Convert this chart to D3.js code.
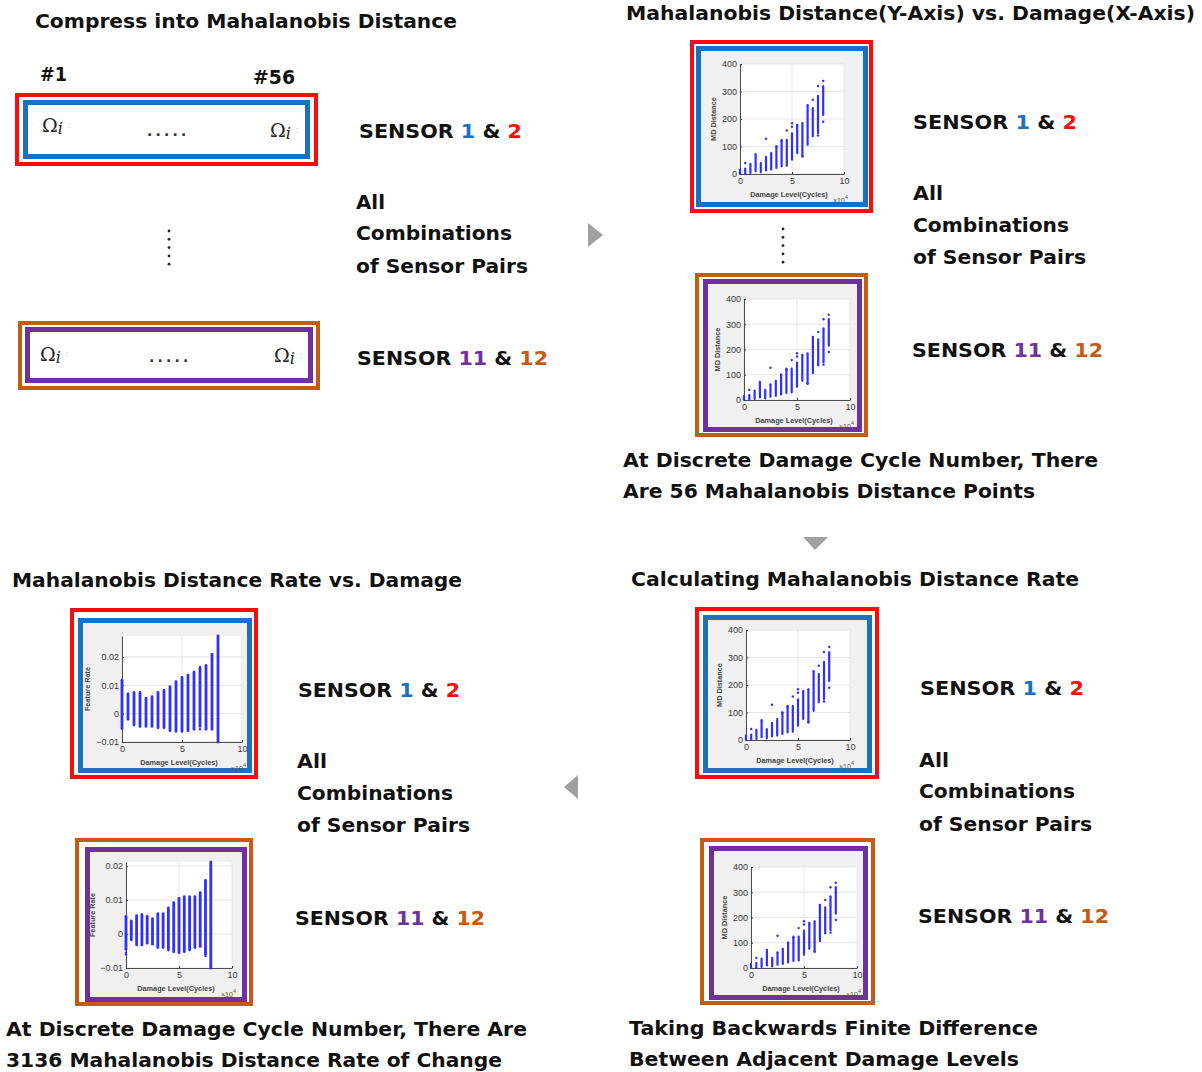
<!DOCTYPE html>
<html>
<head>
<meta charset="utf-8">
<script src="https://cdn.jsdelivr.net/npm/d3@7"></script>
<style>
  body { margin: 0; background: #fff; }
  svg { display: block; }
</style>
</head>
<body>
<svg id="fig" width="1202" height="1072"></svg>
<script>
// ---- data ---------------------------------------------------------------
// damage levels, in units of 10^4 cycles
const damageLevels = [0, 0.5, 1, 1.5, 2, 2.5, 3, 3.5, 4, 4.5, 5, 5.5, 6, 6.5, 7, 7.5, 8];

// Mahalanobis distance: dense spread of the 56 points at each damage level
const mdLow  = [0, 0, 4, 10, 6, 13, 16, 22, 28, 30, 52, 76, 64, 106, 137, 149, 215];
const mdHigh = [16, 20, 37, 72, 40, 62, 76, 100, 124, 124, 148, 175, 185, 245, 240, 284, 320];
// isolated Mahalanobis distance points [damage level, distance]
const mdScatter = [[0.5, 40], [2.5, 128], [3.5, 100], [4, 120], [4.5, 158], [5, 185], [5, 172],
                   [5.5, 178], [6, 65], [6.5, 250], [7, 270], [7.5, 320], [7.5, 140], [8, 338], [8, 190]];

// Mahalanobis distance rate, sensor pair 1 & 2
const rateLow12  = [-0.0053, -0.0020, -0.0040, -0.0045, -0.0045, -0.0045, -0.0050, -0.0050, -0.0060,
                    -0.0062, -0.0062, -0.0060, -0.0055, -0.0045, -0.0055, -0.0055, -0.0100];
const rateHigh12 = [0.0118, 0.0070, 0.0075, 0.0075, 0.0055, 0.0060, 0.0075, 0.0083, 0.0095,
                    0.0113, 0.0128, 0.0136, 0.0145, 0.0160, 0.0170, 0.0210, 0.0274];
const rateScatter12 = [[6, 0.0148], [6.5, -0.0055], [6.5, 0.0165]];

// Mahalanobis distance rate, sensor pair 11 & 12
const rateLow1112  = [-0.0045, -0.0017, -0.0032, -0.0032, -0.0027, -0.0030, -0.0040, -0.0040, -0.0047,
                      -0.0052, -0.0055, -0.0052, -0.0047, -0.0040, -0.0037, -0.0060, -0.0100];
const rateHigh1112 = [0.0052, 0.0039, 0.0054, 0.0057, 0.0052, 0.0045, 0.0060, 0.0060, 0.0077,
                      0.0092, 0.0105, 0.0110, 0.0110, 0.0110, 0.0122, 0.0158, 0.0212];
const rateScatter1112 = [[0, -0.0055], [0, -0.0060], [7.5, -0.0065], [8, -0.0095]];

// axis ticks
const damageTicks = [0, 5, 10];
const mdTicks = [0, 100, 200, 300, 400];
const rateTicks = [-0.01, 0, 0.01, 0.02];

// ---- styling ------------------------------------------------------------
const RED = "#ff0a0a", BLUE = "#1b70c0", PURPLE = "#7030a0", ORANGE = "#c55a11";
const INK = "#111";
const MARK = "#2f2fff";
const FONT = "'DejaVu Sans', Verdana, sans-serif";
const AXFONT = "'Liberation Sans', Arial, sans-serif";

const svg = d3.select("#fig");

// bold caption text; parts = [[text, colour], ...]
function label(x, y, parts, len, size = 20) {
  const t = svg.append("text")
    .attr("x", x).attr("y", y)
    .attr("font-family", FONT).attr("font-weight", "bold")
    .attr("font-size", size).attr("fill", INK);
  parts.forEach(p => t.append("tspan").attr("fill", p[1] || INK).text(p[0]));
  if (len) t.attr("textLength", len).attr("lengthAdjust", "spacingAndGlyphs");
  return t;
}

// rectangular border whose outer edge is (x0,y0)-(x1,y1)
function frame(x0, y0, x1, y1, color, w, fill = "none") {
  svg.append("rect")
    .attr("x", x0 + w / 2).attr("y", y0 + w / 2)
    .attr("width", x1 - x0 - w).attr("height", y1 - y0 - w)
    .attr("fill", fill).attr("stroke", color).attr("stroke-width", w);
}

// small MATLAB-style scatter panel
function miniChart(box, opt) {
  const g = svg.append("g");
  const x = d3.scaleLinear().domain([0, 10]).range([box.l, box.r]);
  const y = d3.scaleLinear().domain(opt.yDomain).range([box.b, box.t]);

  g.append("rect").attr("x", box.l).attr("y", box.t)
    .attr("width", box.r - box.l).attr("height", box.b - box.t).attr("fill", "#fff");

  // grid
  g.append("g").selectAll("line").data(damageTicks).join("line")
    .attr("x1", d => x(d)).attr("x2", d => x(d)).attr("y1", box.t).attr("y2", box.b)
    .attr("stroke", "#e2e2e2").attr("stroke-width", 0.9);
  g.append("g").selectAll("line").data(opt.yTicks).join("line")
    .attr("x1", box.l).attr("x2", box.r).attr("y1", d => y(d)).attr("y2", d => y(d))
    .attr("stroke", "#e2e2e2").attr("stroke-width", 0.9);

  // axes
  const ax = g.append("g").attr("transform", `translate(0,${box.b})`)
    .call(d3.axisBottom(x).tickValues(damageTicks).tickSizeInner(-2).tickSizeOuter(0).tickPadding(4));
  const ay = g.append("g").attr("transform", `translate(${box.l},0)`)
    .call(d3.axisLeft(y).tickValues(opt.yTicks).tickFormat(opt.fmt).tickSizeInner(-2).tickSizeOuter(0).tickPadding(3));
  [ax, ay].forEach(a => {
    a.select(".domain").attr("stroke", "#3a3a3a").attr("stroke-width", 0.9);
    a.selectAll(".tick line").attr("stroke", "#3a3a3a");
    a.selectAll("text").attr("font-family", AXFONT).attr("font-size", 9).attr("fill", "#3a3a3a");
  });

  // columns of points
  g.append("g").selectAll("line").data(damageLevels).join("line")
    .attr("x1", d => x(d)).attr("x2", d => x(d))
    .attr("y1", (d, i) => y(opt.low[i])).attr("y2", (d, i) => y(opt.high[i]))
    .attr("stroke", MARK).attr("stroke-width", opt.colWidth).attr("stroke-linecap", "round");
  g.append("g").selectAll("circle").data(opt.scatter).join("circle")
    .attr("cx", d => x(d[0])).attr("cy", d => y(d[1])).attr("r", 1.2).attr("fill", MARK);

  // axis labels
  const cx = (box.l + box.r) / 2, cy = (box.t + box.b) / 2;
  g.append("text").attr("x", cx - 3).attr("y", box.b + 23).attr("text-anchor", "middle")
    .attr("font-family", AXFONT).attr("font-weight", "bold").attr("font-size", 7.3).attr("fill", "#444")
    .text("Damage Level(Cycles)");
  const e = g.append("text").attr("x", box.r - 11).attr("y", box.b + 29)
    .attr("font-family", AXFONT).attr("font-size", 7).attr("fill", "#555");
  e.append("tspan").text("\u00d710");
  e.append("tspan").attr("dy", -4).attr("font-size", 5.5).text("4");
  g.append("text").attr("transform", `translate(${box.l + opt.ylabOff},${cy}) rotate(-90)`)
    .attr("text-anchor", "middle")
    .attr("font-family", AXFONT).attr("font-weight", "bold").attr("font-size", 7.3).attr("fill", "#444")
    .text(opt.ylab);
}

const mdOpt = { yDomain: [0, 400], yTicks: mdTicks, fmt: d3.format("d"), low: mdLow, high: mdHigh,
                scatter: mdScatter, colWidth: 2.2, ylab: "MD Distance", ylabOff: -24 };
const rateFmt = d => d === 0 ? "0" : d3.format(".2f")(d);

// ---- top-left: compression into Mahalanobis distance --------------------
label(35, 28, [["Compress into Mahalanobis Distance"]], 422);
label(40, 81, [["#1"]], 27);
label(253, 84, [["#56"]], 42);

frame(15, 93, 318, 166, RED, 4, "#fff");
frame(23, 100, 310, 159, BLUE, 5, "#fff");
frame(18, 321, 320, 390, ORANGE, 4, "#fff");
frame(25, 327, 313, 383, PURPLE, 5, "#fff");

function omega(x, y) {
  const t = svg.append("text").attr("x", x).attr("y", y)
    .attr("font-family", "'DejaVu Serif', 'Liberation Serif', serif").attr("font-size", 19).attr("fill", "#222");
  t.append("tspan").text("\u03a9");
  t.append("tspan").attr("font-style", "italic").attr("font-size", 16).attr("dy", 2).text("i");
  svg.append("text").attr("x", x + 26).attr("y", y - 4).attr("font-family", AXFONT)
    .attr("font-size", 9).attr("fill", "#bbb").text(":");
}
function ellipsis(x, y) {
  svg.append("text").attr("x", x).attr("y", y).attr("font-family", FONT).attr("font-weight", "bold")
    .attr("font-size", 14).attr("fill", "#333").attr("letter-spacing", 3.2).text(".....");
}
omega(42, 132); ellipsis(147, 136); omega(270, 137);
omega(40, 361); ellipsis(149, 362); omega(274, 362);

function vdots(x, y0) {
  svg.append("g").selectAll("circle").data([0, 1, 2, 3, 4]).join("circle")
    .attr("cx", x).attr("cy", d => y0 + d * 8.3).attr("r", 1.4).attr("fill", "#222");
}
vdots(169, 231);

label(359, 138, [["SENSOR "], ["1", BLUE], [" & "], ["2", RED]], 163);
label(356, 209, [["All"]], 29);
label(356, 240, [["Combinations"]], 156);
label(356, 273, [["of Sensor Pairs"]], 172);
label(357, 365, [["SENSOR "], ["11", PURPLE], [" & "], ["12", ORANGE]], 191);

// ---- top-right: Mahalanobis distance vs damage --------------------------
label(626, 20, [["Mahalanobis Distance(Y-Axis) vs. Damage(X-Axis)"]], 569);
frame(690, 40, 873, 213, RED, 4, "#fff");
frame(696, 46, 868, 207, BLUE, 5, "#f0f0f0");
miniChart({ l: 740, r: 844, t: 64, b: 174 }, mdOpt);
vdots(783, 229);
frame(695, 273, 868, 437, ORANGE, 4, "#fff");
frame(703, 279, 862, 432, PURPLE, 5, "#f0f0f0");
miniChart({ l: 744, r: 850, t: 299, b: 400 }, mdOpt);

label(913, 129, [["SENSOR "], ["1", BLUE], [" & "], ["2", RED]], 164);
label(913, 200, [["All"]], 30);
label(913, 232, [["Combinations"]], 156);
label(913, 264, [["of Sensor Pairs"]], 173);
label(912, 357, [["SENSOR "], ["11", PURPLE], [" & "], ["12", ORANGE]], 191);
label(623, 467, [["At Discrete Damage Cycle Number, There"]], 475);
label(623, 498, [["Are 56 Mahalanobis Distance Points"]], 412);

// ---- bottom-right: rate calculation --------------------------------------
label(631, 586, [["Calculating Mahalanobis Distance Rate"]], 448);
frame(695, 607, 879, 779, RED, 4, "#fff");
frame(703, 615, 872, 773, BLUE, 5, "#f0f0f0");
miniChart({ l: 746, r: 850, t: 630, b: 740 }, mdOpt);
frame(700, 838, 875, 1005, ORANGE, 4, "#fff");
frame(709, 846, 868, 1000, PURPLE, 5, "#f0f0f0");
miniChart({ l: 751, r: 857, t: 867, b: 968 }, mdOpt);

label(920, 695, [["SENSOR "], ["1", BLUE], [" & "], ["2", RED]], 164);
label(919, 767, [["All"]], 30);
label(919, 798, [["Combinations"]], 156);
label(919, 831, [["of Sensor Pairs"]], 173);
label(918, 923, [["SENSOR "], ["11", PURPLE], [" & "], ["12", ORANGE]], 191);
label(629, 1035, [["Taking Backwards Finite Difference"]], 409);
label(629, 1066, [["Between Adjacent Damage Levels"]], 390);

// ---- bottom-left: rate vs damage -----------------------------------------
label(12, 587, [["Mahalanobis Distance Rate vs. Damage"]], 450);
frame(70, 608, 258, 779, RED, 4, "#fff");
frame(78, 618, 252, 773, BLUE, 5, "#f0f0f0");
miniChart({ l: 122, r: 242, t: 636, b: 742 },
  { yDomain: [-0.01, 0.0274], yTicks: rateTicks, fmt: rateFmt, low: rateLow12, high: rateHigh12,
    scatter: rateScatter12, colWidth: 2.8, ylab: "Feature Rate", ylabOff: -32 });
frame(75, 838, 253, 1006, ORANGE, 4, "#fff");
frame(85, 847, 247, 1002, PURPLE, 5, "#f0f0f0");
miniChart({ l: 126, r: 232, t: 862, b: 968 },
  { yDomain: [-0.01, 0.0212], yTicks: rateTicks, fmt: rateFmt, low: rateLow1112, high: rateHigh1112,
    scatter: rateScatter1112, colWidth: 2.8, ylab: "Feature Rate", ylabOff: -31 });

label(298, 697, [["SENSOR "], ["1", BLUE], [" & "], ["2", RED]], 162);
label(297, 768, [["All"]], 30);
label(297, 800, [["Combinations"]], 156);
label(297, 832, [["of Sensor Pairs"]], 173);
label(295, 925, [["SENSOR "], ["11", PURPLE], [" & "], ["12", ORANGE]], 190);
label(6, 1036, [["At Discrete Damage Cycle Number, There Are"]], 521);
label(6, 1067, [["3136 Mahalanobis Distance Rate of Change"]], 496);

// ---- flow arrows -----------------------------------------------------------
const arrowFill = "#a0a0a0";
svg.append("path").attr("d", d3.line()([[588, 223], [603, 235], [588, 247]])).attr("fill", arrowFill);
svg.append("path").attr("d", d3.line()([[803, 537], [828, 537], [815, 550]])).attr("fill", arrowFill);
svg.append("path").attr("d", d3.line()([[578, 775], [564, 787], [578, 799]])).attr("fill", arrowFill);
</script>
</body>
</html>
